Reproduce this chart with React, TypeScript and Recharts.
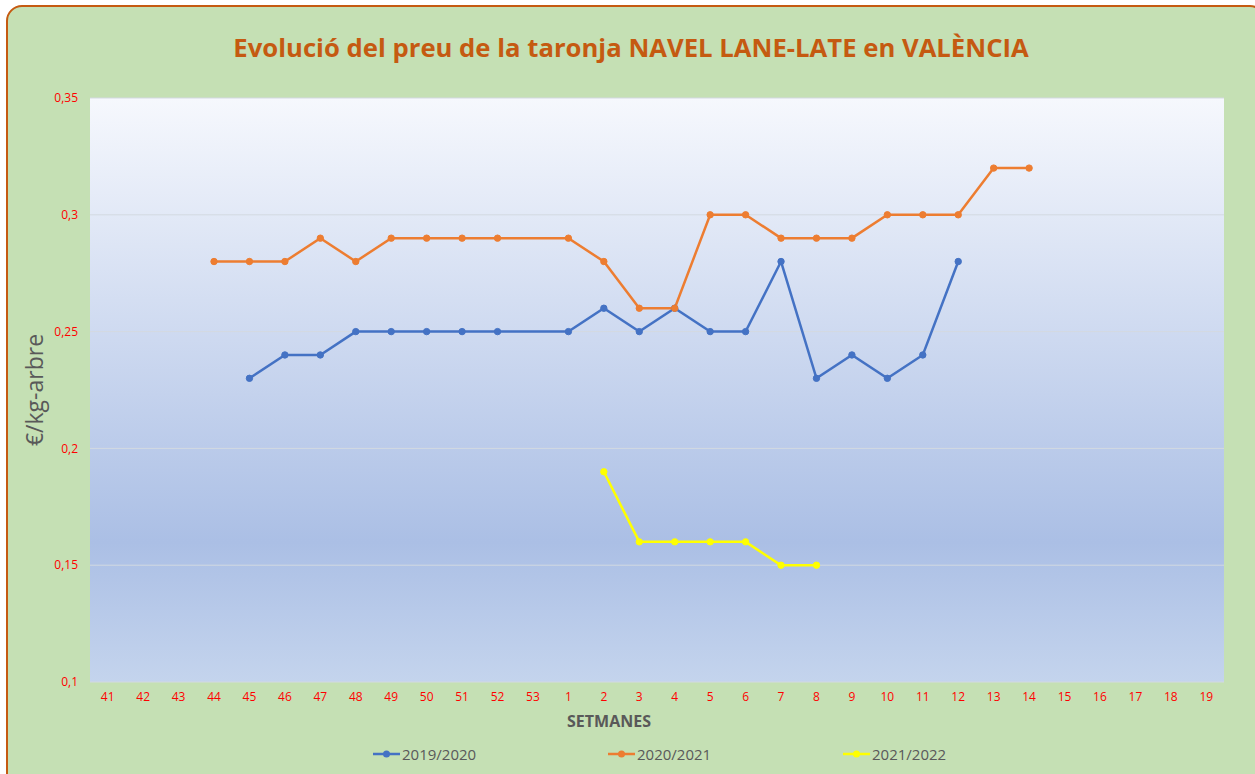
import { CartesianGrid, Label, Legend, Line, LineChart, XAxis, YAxis } from 'recharts'

const weeks = [
  '41', '42', '43', '44', '45', '46', '47', '48', '49', '50', '51', '52', '53',
  '1', '2', '3', '4', '5', '6', '7', '8', '9', '10', '11', '12', '13', '14', '15', '16', '17', '18', '19',
]

const s2019: Array<number | null> = [
  null, null, null, null, 0.23, 0.24, 0.24, 0.25, 0.25, 0.25, 0.25, 0.25, null,
  0.25, 0.26, 0.25, 0.26, 0.25, 0.25, 0.28, 0.23, 0.24, 0.23, 0.24, 0.28, null, null, null, null, null, null, null,
]

const s2020: Array<number | null> = [
  null, null, null, 0.28, 0.28, 0.28, 0.29, 0.28, 0.29, 0.29, 0.29, 0.29, null,
  0.29, 0.28, 0.26, 0.26, 0.3, 0.3, 0.29, 0.29, 0.29, 0.3, 0.3, 0.3, 0.32, 0.32, null, null, null, null, null,
]

const s2021: Array<number | null> = [
  null, null, null, null, null, null, null, null, null, null, null, null, null,
  null, 0.19, 0.16, 0.16, 0.16, 0.16, 0.15, 0.15, null, null, null, null, null, null, null, null, null, null, null,
]

const yTicks = [0.1, 0.15, 0.2, 0.25, 0.3, 0.35]

const seriesInfo = [
  { key: 's2019', name: '2019/2020', color: '#4472c4' },
  { key: 's2020', name: '2020/2021', color: '#ed7d31' },
  { key: 's2021', name: '2021/2022', color: '#ffff00' },
]

const data = weeks.map((w, i) => ({ week: w, s2019: s2019[i], s2020: s2020[i], s2021: s2021[i] }))

const FONT = '"Open Sans", "Noto Sans", sans-serif'

function LegendBox() {
  return (
    <div style={{ display: 'flex', paddingLeft: 373, fontFamily: FONT }}>
      {seriesInfo.map((s) => (
        <div key={s.key} style={{ width: 235, display: 'flex', alignItems: 'center' }}>
          <svg width={27} height={10}>
            <line x1={0} y1={5} x2={27} y2={5} stroke={s.color} strokeWidth={2.5} />
            <circle cx={13.5} cy={5} r={3.5} fill={s.color} />
          </svg>
          <span style={{ fontSize: 15, color: '#595959', marginLeft: 2 }}>{s.name}</span>
        </div>
      ))}
    </div>
  )
}

export default function App() {
  return (
    <div style={{ position: 'absolute', left: 0, top: 0, width: 1255, height: 774, overflow: 'hidden', background: '#fff' }}>
      <div
        style={{
          position: 'absolute',
          left: 6,
          top: 5,
          width: 1260,
          height: 790,
          border: '2px solid #c55a11',
          borderRadius: 16,
          background: '#c5e0b4',
          boxSizing: 'border-box',
        }}
      />
      <div
        style={{
          position: 'absolute',
          left: 0,
          top: 30,
          width: 1262,
          textAlign: 'center',
          fontFamily: FONT,
          fontWeight: 700,
          fontSize: 25.7,
          color: '#c55a11',
          lineHeight: '36px',
        }}
      >
        Evolució del preu de la taronja NAVEL LANE-LATE en VALÈNCIA
      </div>
      <div style={{ position: 'absolute', left: 0, top: 0 }}>
        <LineChart width={1255} height={774} data={data} margin={{ top: 98, right: 31, bottom: 62, left: 30 }}>
          <defs>
            <linearGradient id="plotBg" x1="0" y1="0" x2="0" y2="1">
              <stop offset="0" stopColor="#f6f8fd" />
              <stop offset="0.76" stopColor="#abbfe5" />
              <stop offset="1" stopColor="#c4d4ed" />
            </linearGradient>
          </defs>
          <CartesianGrid vertical={false} fill="url(#plotBg)" stroke="#d3d9e1" strokeWidth={1} />
          <XAxis
            dataKey="week"
            height={30}
            axisLine={false}
            tickLine={false}
            tickSize={0}
            tickMargin={10}
            interval={0}
            padding={{ left: 17.7, right: 17.7 }}
            tick={{ fill: '#ff0000', fontSize: 12, fontFamily: FONT }}
          >
            <Label
              value="SETMANES"
              position="insideBottom"
              offset={-15}
              dx={-48}
              style={{ fill: '#595959', fontSize: 16, fontWeight: 700, fontFamily: FONT }}
            />
          </XAxis>
          <YAxis
            width={60}
            domain={[0.1, 0.35]}
            ticks={yTicks}
            axisLine={false}
            tickLine={false}
            tickSize={0}
            tickMargin={12}
            allowDataOverflow
            tickFormatter={(v: number) => String(Number(v.toFixed(2))).replace('.', ',')}
            tick={{ fill: '#ff0000', fontSize: 12, fontFamily: FONT }}
          >
            <Label
              value="€/kg-arbre"
              angle={-90}
              position="insideLeft"
              offset={5}
              style={{ fill: '#595959', fontSize: 23, fontFamily: FONT, textAnchor: 'middle' }}
            />
          </YAxis>
          <Legend
            layout="horizontal"
            verticalAlign="middle"
            align="center"
            content={() => <LegendBox />}
            wrapperStyle={{ top: 744, left: 0, width: 1255, height: 20 }}
          />
          {seriesInfo.map((s) => (
            <Line
              key={s.key}
              type="linear"
              dataKey={s.key}
              name={s.name}
              stroke={s.color}
              strokeWidth={2.5}
              dot={{ r: 3.2, fill: s.color, stroke: s.color, strokeWidth: 1 }}
              activeDot={false}
              connectNulls
              isAnimationActive={false}
            />
          ))}
        </LineChart>
      </div>
    </div>
  )
}
